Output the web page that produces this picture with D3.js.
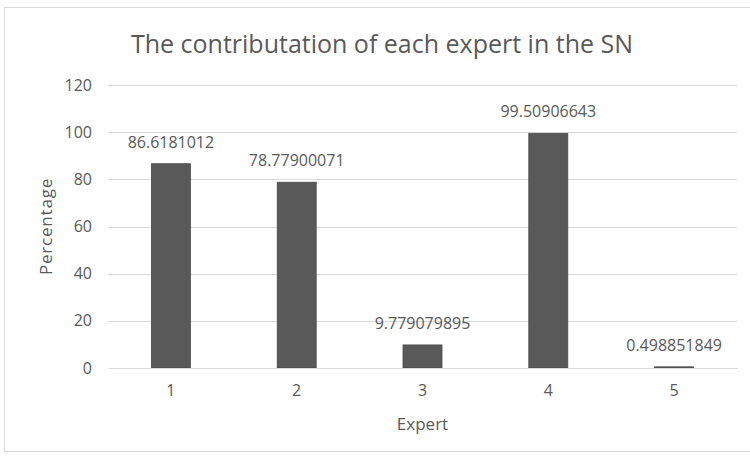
<!DOCTYPE html>
<html>
<head>
<meta charset="utf-8">
<script src="https://cdn.jsdelivr.net/npm/d3@7"></script>
<style>
  body { margin: 0; background: #fff; }
  text { font-family: "Open Sans", "Noto Sans", sans-serif; fill: #595959; }
</style>
</head>
<body>
<div id="chart"></div>
<script>
var experts = ["1", "2", "3", "4", "5"];
var contributions = [86.6181012, 78.77900071, 9.779079895, 99.50906643, 0.498851849];
var valueLabels = ["86.6181012", "78.77900071", "9.779079895", "99.50906643", "0.498851849"];
var yTicks = [0, 20, 40, 60, 80, 100, 120];

var W = 750, H = 456;
var margin = { top: 85, right: 13, bottom: 88, left: 108 };
var width = W - margin.left - margin.right;
var height = H - margin.top - margin.bottom;

var svg = d3.select("#chart").append("svg")
  .attr("width", W)
  .attr("height", H);

// chart area border
svg.append("rect")
  .attr("x", 4.5).attr("y", 7.5)
  .attr("width", W + 10).attr("height", H - 12)
  .attr("fill", "#fff")
  .attr("stroke", "#d9d9d9");

svg.append("text")
  .attr("x", 382)
  .attr("y", 53)
  .attr("text-anchor", "middle")
  .style("font-size", "25px")
  .text("The contributation of each expert in the SN");

var g = svg.append("g")
  .attr("transform", "translate(" + margin.left + "," + margin.top + ")");

var x = d3.scaleBand().domain(experts).range([0, width]).paddingInner(0.69).paddingOuter(0.345);
var y = d3.scaleLinear().domain([0, 120]).range([height, 0]);

// gridlines
g.selectAll(".grid")
  .data(yTicks.filter(function (d) { return d > 0; }))
  .enter()
  .append("line")
  .attr("x1", 0).attr("x2", width)
  .attr("y1", function (d) { return Math.round(y(d)) + 0.5; })
  .attr("y2", function (d) { return Math.round(y(d)) + 0.5; })
  .attr("stroke", "#d9d9d9")
  .attr("stroke-width", 1);

// y axis labels
var yAxis = g.append("g")
  .call(d3.axisLeft(y).tickValues(yTicks).tickSize(0).tickPadding(16));
yAxis.select(".domain").remove();
yAxis.selectAll("text").style("font-size", "16px").attr("fill", "#595959");

// bars
g.selectAll(".bar")
  .data(contributions)
  .enter()
  .append("rect")
  .attr("x", function (d, i) { return x(experts[i]); })
  .attr("y", function (d) { return y(d); })
  .attr("width", x.bandwidth())
  .attr("height", function (d) { return height - y(d); })
  .attr("fill", "#595959")
  .attr("stroke", "#4a4a4a")
  .attr("stroke-width", 0.8);

// value labels
g.selectAll(".lbl")
  .data(contributions)
  .enter()
  .append("text")
  .attr("x", function (d, i) { return x(experts[i]) + x.bandwidth() / 2; })
  .attr("y", function (d) { return y(d) - 16; })
  .attr("text-anchor", "middle")
  .style("font-size", "16px")
  .text(function (d, i) { return valueLabels[i]; });

// x axis
var xAxis = g.append("g")
  .attr("transform", "translate(0," + height + ")")
  .call(d3.axisBottom(x).tickSize(0).tickPadding(17));
xAxis.select(".domain").attr("stroke", "#d9d9d9");
xAxis.selectAll("text").style("font-size", "16px").attr("fill", "#595959");

// axis titles
svg.append("text")
  .attr("x", margin.left + width / 2)
  .attr("y", 430)
  .attr("text-anchor", "middle")
  .style("font-size", "17px")
  .text("Expert");

svg.append("text")
  .attr("transform", "translate(52," + (margin.top + height / 2) + ") rotate(-90)")
  .attr("text-anchor", "middle")
  .style("font-size", "17px")
  .style("letter-spacing", "0.8px")
  .text("Percentage");
</script>
</body>
</html>
